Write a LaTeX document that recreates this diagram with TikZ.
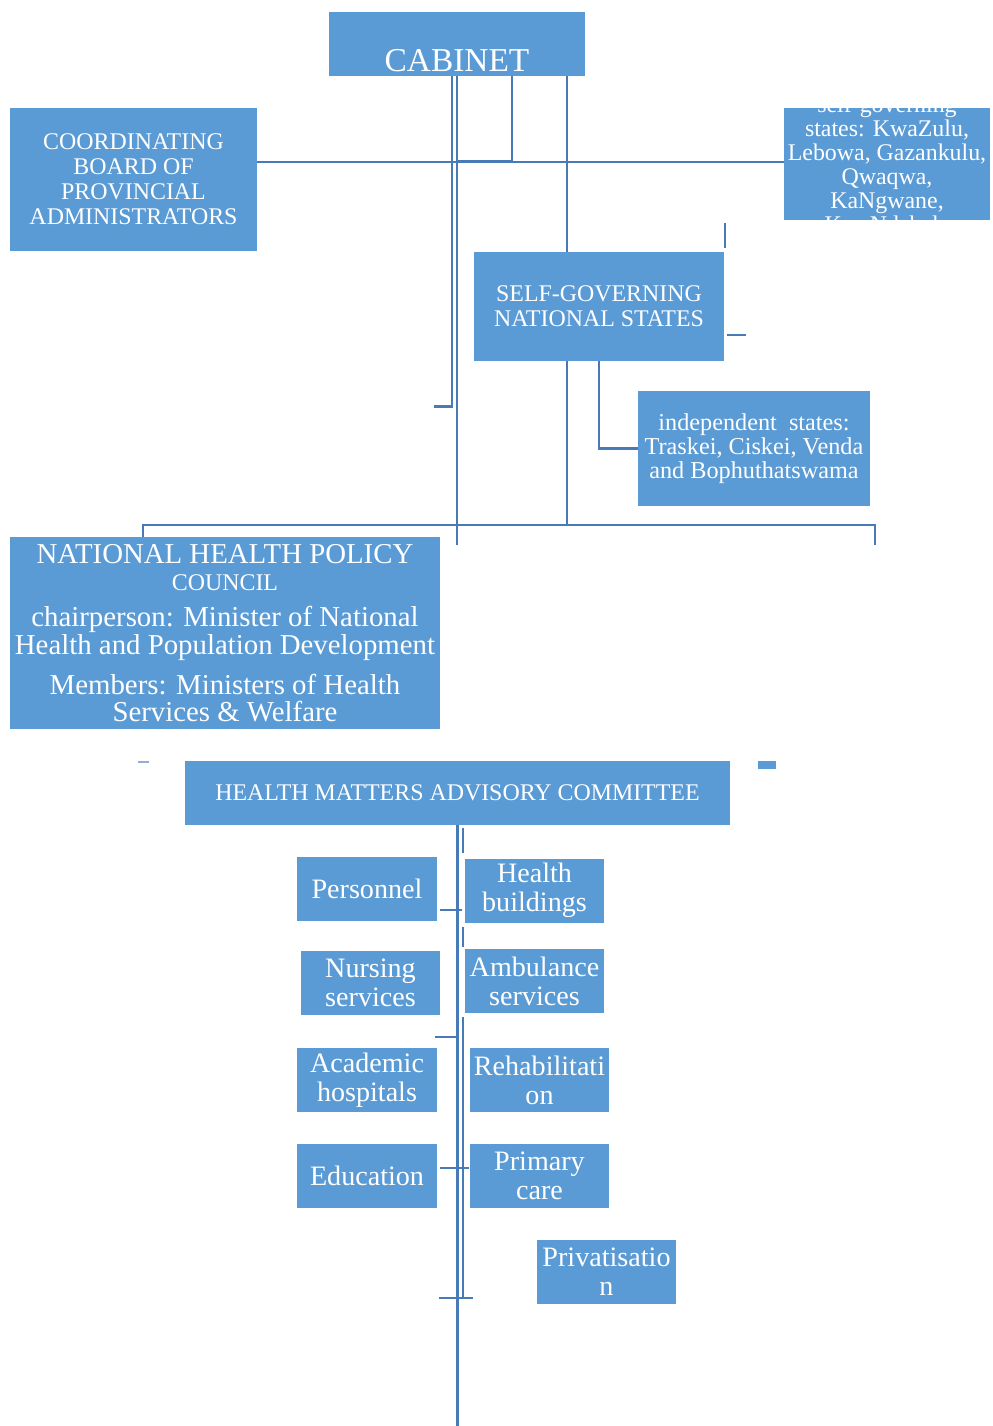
\documentclass[tikz,border=0pt]{standalone}
\usepackage{fontspec}
\setmainfont{Liberation Serif}
\usepackage{tikz}
\usetikzlibrary{positioning,calc}
\definecolor{orgBlue}{RGB}{91,155,213}
\definecolor{orgLine}{RGB}{72,122,184}

\begin{document}
\begin{tikzpicture}[
    x=0.02cm, y=-0.02cm,
    box/.style={fill=orgBlue, text=white, inner sep=1pt, align=center,
      font=\fontsize{13.6}{14.2}\selectfont},
    unit/.style={box, inner sep=0.5pt, minimum width=2.8cm, minimum height=1.28cm,
      font=\fontsize{16}{16.4}\selectfont},
    link/.style={draw=orgLine, line width=1.4pt},
    tick/.style={draw=orgLine, line width=1.1pt}
  ]
  \useasboundingbox (0,0) rectangle (992,1426);

  % CABINET
  \node[box, minimum width=5.12cm, minimum height=1.28cm, text height=1.1cm,
    font=\fontsize{19}{19}\selectfont] (cabinet) at (457,44) {CABINET};

  % boards and states
  \node[box, minimum width=4.94cm, minimum height=2.86cm] (board) at (133.5,179.5)
    {COORDINATING\\BOARD OF\\PROVINCIAL\\ADMINISTRATORS};
  \node[box, minimum width=4.12cm, minimum height=2.24cm] (homelands) at (887,164) {};
  \begin{scope}
    \clip (homelands.south west) rectangle (homelands.north east);
    \node[box, fill=none, font=\fontsize{13.6}{13.6}\selectfont] (homelandstxt) at (887,164)
      {self-governing\\states: KwaZulu,\\Lebowa, Gazankulu,\\Qwaqwa,\\KaNgwane,\\KwaNdebele};
  \end{scope}
  \node[box, minimum width=5.0cm, minimum height=2.18cm] (sgns) at (599,306.5)
    {SELF-GOVERNING\\NATIONAL STATES};
  \node[box, minimum width=4.64cm, minimum height=2.3cm, font=\fontsize{13.8}{13.6}\selectfont]
    (indep) at (754,448.5) {independent\ \ states:\\Traskei, Ciskei, Venda\\and Bophuthatswama};

  % health policy council
  \node[box, minimum width=8.6cm, minimum height=3.84cm, font=\fontsize{16.4}{16.4}\selectfont]
    (nhpc) at (225,633)
    {NATIONAL HEALTH POLICY\\[-1pt]
     {\fontsize{13.6}{14}\selectfont COUNCIL}\\[4pt]
     chairperson: Minister of National\\
     Health and Population Development\\[6pt]
     Members: Ministers of Health\\[-1pt]
     Services \& Welfare};

  % advisory committee
  \node[box, minimum width=10.9cm, minimum height=1.28cm] (hmac) at (457.5,793)
    {HEALTH MATTERS ADVISORY COMMITTEE};

  % committee units
  \node[unit] (personnel) at (367,889)   {Personnel};
  \node[unit] (hbuild)    at (534.5,890.5) {Health\\buildings};
  \node[unit] (nursing)   at (370.5,983) {Nursing\\services};
  \node[unit] (ambul)     at (534.5,981) {Ambulance\\services};
  \node[unit] (academic)  at (367,1080)  {Academic\\hospitals};
  \node[unit] (rehab)     at (539.5,1080) {Rehabilitati\\on};
  \node[unit] (education) at (367,1176)  {Education};
  \node[unit] (primary)   at (539.5,1176) {Primary\\care};
  \node[unit] (privat)    at (606.5,1272) {Privatisatio\\n};

  % links from the cabinet
  \coordinate (bar) at (143,525);
  \coordinate (barend) at (875,525);
  \draw[link] (cabinet.south) -- ++(0,469);
  \draw[link] ([xshift=-0.1cm]cabinet.south) |- ++(-18,330);
  \draw[link] ([xshift=1.1cm]cabinet.south) |- ++(-55,85);
  \draw[link] ([yshift=0.35cm]board.east) -- ([yshift=0.35cm]board.east -| homelands.west);
  \draw[link] ([xshift=2.2cm]cabinet.south) -- ([xshift=2.2cm]cabinet.south |- sgns.north);
  \draw[link] ([xshift=-0.64cm]sgns.south) -- ([xshift=-0.64cm]sgns.south |- bar);
  \draw[link] (sgns.south) |- (indep.west);
  \draw[link] (bar |- nhpc.north) -- (bar) -- (barend) -- ++(0,20);
  \draw[tick] ([shift={(0.02cm,0.08cm)}]sgns.north east) -- ++(0,-25);
  \draw[tick] ([shift={(0.06cm,-0.57cm)}]sgns.east) -- ++(19,0);

  % marks beside the committee
  \draw[tick, orgLine!60] ([shift={(-47,1)}]hmac.north west) -- ++(11,0);
  \fill[orgBlue] ([shift={(28,0)}]hmac.north east) rectangle ++(18,8);

  % links below the committee
  \coordinate (base) at (457,1426);
  \coordinate (rail) at ([xshift=0.11cm]hmac.south);
  \coordinate (stop) at (439,1298);
  \draw[link] (hmac.south) -- (hmac.south |- base);
  \draw[tick] (rail) ++(0,3) -- ++(0,25);
  \draw[tick] (rail) ++(0,102) -- ++(0,20);
  \draw[tick] (rail) ++(0,192) -- (rail |- stop);
  \draw[tick] (personnel.east) ++(3,21) -- ++(22,0);
  \draw[tick] (nursing.south east) ++(-6,22) -- ++(23,0);
  \draw[tick] ($(education.east)+(3,-8)$) -- ($(primary.west)+(0,-8)$);
  \draw[tick] (stop) -- ++(34,0);
\end{tikzpicture}
\end{document}
